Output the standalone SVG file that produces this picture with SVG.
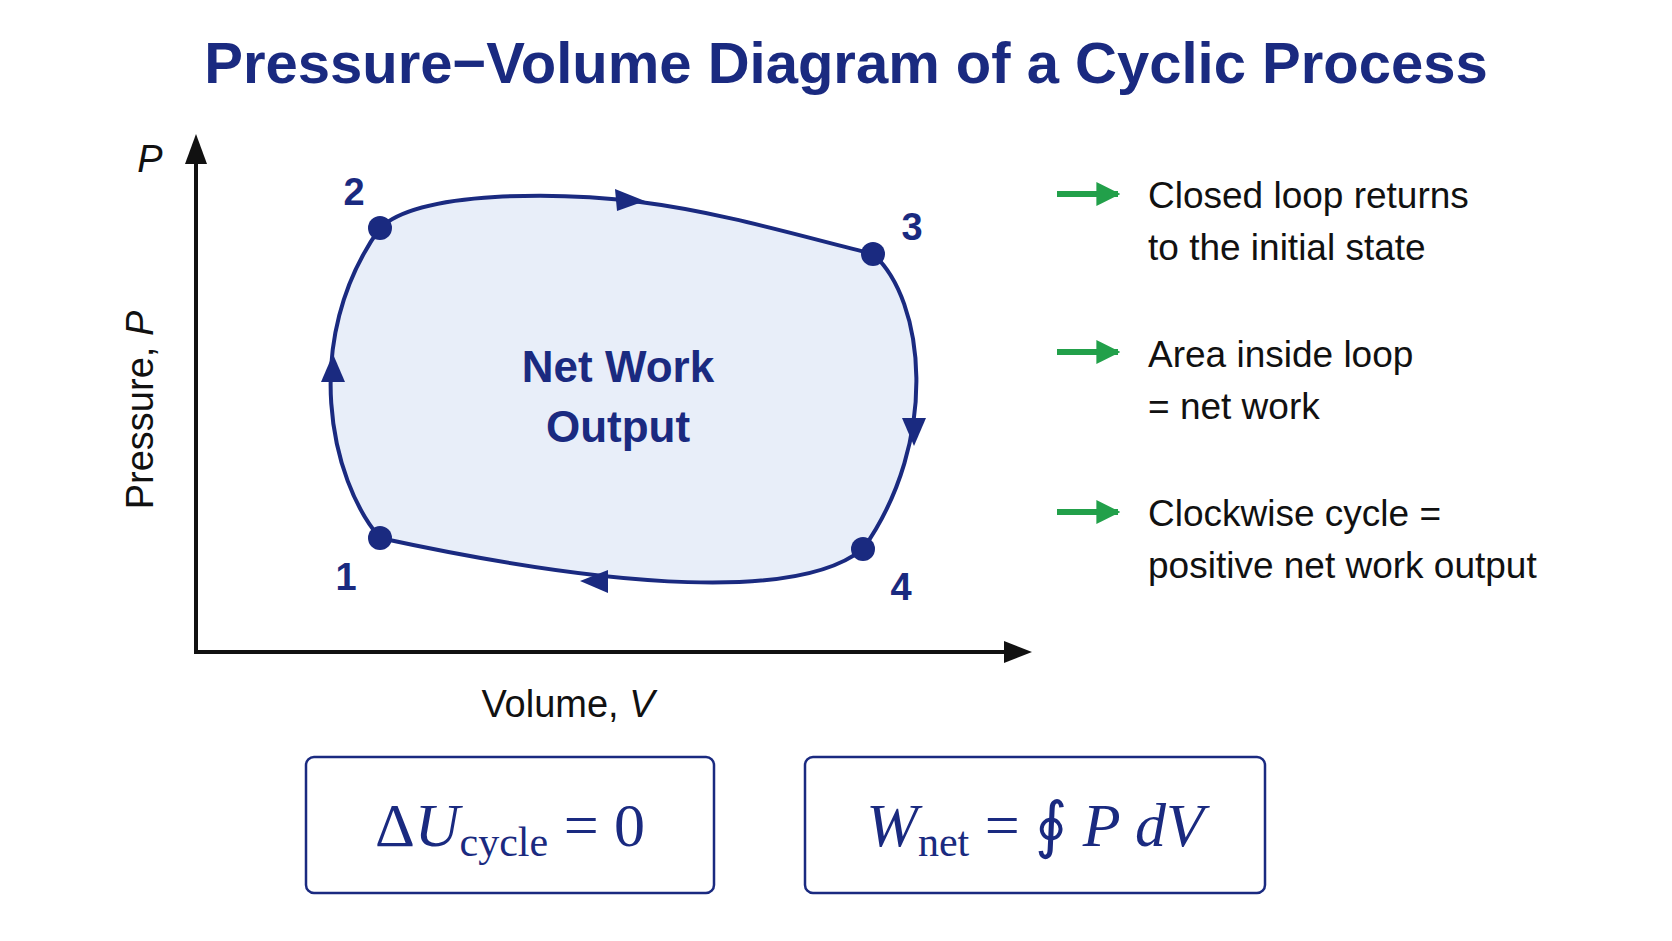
<svg xmlns="http://www.w3.org/2000/svg" width="1672" height="941" viewBox="0 0 1672 941">
<defs>
<marker id="gh" viewBox="0 0 10 10" refX="9" refY="5" markerWidth="24" markerHeight="24" orient="auto" markerUnits="userSpaceOnUse"><path d="M0,0 L10,5 L0,10 Z" fill="#22a04a"/></marker>
</defs>
<style>
.t{font-family:"Liberation Sans",Arial,sans-serif}
.leg{font-family:"Liberation Sans",Arial,sans-serif;font-size:37px;fill:#111}
.num{font-family:"Liberation Sans",Arial,sans-serif;font-size:38px;font-weight:bold;fill:#1a2a80}
.pt{fill:#1a2a80}
.box{fill:#fff;stroke:#1a2a80;stroke-width:2.5}
.m{font-family:"Liberation Serif","Times New Roman",serif;fill:#1a2a80}
</style>
<rect width="1672" height="941" fill="#fff"/>
<text class="t" x="846" y="83" text-anchor="middle" font-size="58" font-weight="bold" fill="#1a2a80">Pressure−Volume Diagram of a Cyclic Process</text>
<g id="axes">
<line x1="196" y1="652" x2="196" y2="142" stroke="#111" stroke-width="4"/>
<polygon points="196,134 185,164 207,164" fill="#111"/>
<line x1="194" y1="652" x2="1010" y2="652" stroke="#111" stroke-width="4"/>
<polygon points="1032,652 1004,641 1004,663" fill="#111"/>
<text class="t" x="150" y="172" font-size="38" font-style="italic" text-anchor="middle" fill="#111">P</text>
<text class="t" transform="translate(153,410) rotate(-90)" font-size="38" text-anchor="middle" fill="#111">Pressure, <tspan font-style="italic">P</tspan></text>
<text class="t" x="568" y="717" font-size="38" text-anchor="middle" fill="#111">Volume, <tspan font-style="italic">V</tspan></text>
</g>
<g id="loop">
<path d="M380,228 C420,190 560,192 640,202 C720,212 800,236 873,254 C925,300 940,440 863,549 C800,600 620,590 380,538 C330,480 300,340 380,228 Z" fill="#e8eef9" stroke="#1a2a80" stroke-width="4"/>
<polygon points="645,201 615,189 617,211" class="pt"/>
<polygon points="914,446 902,418 926,418" class="pt"/>
<polygon points="580,581 608,570 608,593" class="pt"/>
<polygon points="333,354 321,382 345,382" class="pt"/>
<text class="t" x="618" y="382" font-size="44" font-weight="bold" text-anchor="middle" fill="#1a2a80">Net Work</text>
<text class="t" x="618" y="442" font-size="44" font-weight="bold" text-anchor="middle" fill="#1a2a80">Output</text>
</g>
<g id="p1"><circle cx="380" cy="538" r="12" class="pt"/><text class="num" x="346" y="590" text-anchor="middle">1</text></g>
<g id="p2"><circle cx="380" cy="228" r="12" class="pt"/><text class="num" x="354" y="205" text-anchor="middle">2</text></g>
<g id="p3"><circle cx="873" cy="254" r="12" class="pt"/><text class="num" x="912" y="240" text-anchor="middle">3</text></g>
<g id="p4"><circle cx="863" cy="549" r="12" class="pt"/><text class="num" x="901" y="600" text-anchor="middle">4</text></g>
<g id="legend">
<line x1="1057" y1="194" x2="1118" y2="194" stroke="#22a04a" stroke-width="6" marker-end="url(#gh)"/>
<line x1="1057" y1="352" x2="1118" y2="352" stroke="#22a04a" stroke-width="6" marker-end="url(#gh)"/>
<line x1="1057" y1="512" x2="1118" y2="512" stroke="#22a04a" stroke-width="6" marker-end="url(#gh)"/>
<text class="leg" x="1148" y="208">Closed loop returns</text>
<text class="leg" x="1148" y="260">to the initial state</text>
<text class="leg" x="1148" y="367">Area inside loop</text>
<text class="leg" x="1148" y="419">= net work</text>
<text class="leg" x="1148" y="526">Clockwise cycle =</text>
<text class="leg" x="1148" y="578">positive net work output</text>
</g>
<g id="box1">
<rect class="box" x="306" y="757" width="408" height="136" rx="8"/>
<text class="m" x="510" y="846" text-anchor="middle" font-size="62">Δ<tspan font-style="italic">U</tspan><tspan font-size="42" dy="10">cycle</tspan><tspan dy="-10"> = 0</tspan></text>
</g>
<g id="box2">
<rect class="box" x="805" y="757" width="460" height="136" rx="8"/>
<text class="m" x="1035" y="846" text-anchor="middle" font-size="62"><tspan font-style="italic">W</tspan><tspan font-size="42" dy="10">net</tspan><tspan dy="-10"> = ∮ </tspan><tspan font-style="italic">P dV</tspan></text>
</g>
</svg>
